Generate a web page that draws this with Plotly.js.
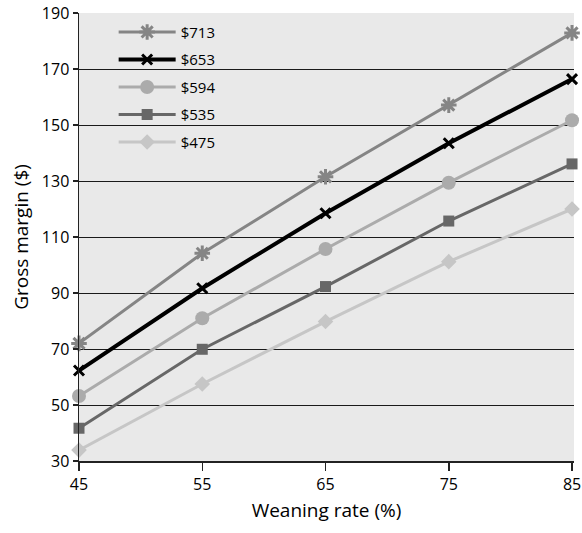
<!DOCTYPE html>
<html>
<head>
<meta charset="utf-8">
<script src="https://cdn.plot.ly/plotly-3.0.1.min.js"></script>
<style>
  html, body { margin: 0; padding: 0; background: #ffffff; }
  #chart { width: 582px; height: 533px; }
</style>
</head>
<body>
<div id="chart"></div>
<script>
// Weaning rate (%) on the x axis
const weaningRate = [45, 55, 65, 75, 85];

// Gross margin ($) for each price level
const seriesNames = ["$713", "$653", "$594", "$535", "$475"];
const margin713 = [72.0, 104.2, 131.5, 157.1, 182.9];
const margin653 = [62.3, 91.7, 118.5, 143.5, 166.4];
const margin594 = [53.2, 81.0, 105.7, 129.4, 151.7];
const margin535 = [41.7, 69.9, 92.3, 115.7, 136.1];
const margin475 = [33.9, 57.5, 79.8, 101.2, 120.0];

const yTicks = [30, 50, 70, 90, 110, 130, 150, 170, 190];
const xTicks = [45, 55, 65, 75, 85];

const FONT = "'Open Sans', 'Noto Sans', sans-serif";

const styles = [
  { color: "#858585", symbol: "asterisk", size: 13, open: true },
  { color: "#000000", symbol: "x-thin", size: 10, open: true },
  { color: "#ababab", symbol: "circle", size: 14, open: false },
  { color: "#676767", symbol: "square", size: 11, open: false },
  { color: "#c6c6c6", symbol: "diamond", size: 12, open: false }
];
const values = [margin713, margin653, margin594, margin535, margin475];

const traces = values.map((v, i) => {
  const s = styles[i];
  return {
    type: "scatter",
    mode: "lines+markers",
    x: weaningRate,
    y: v,
    name: seriesNames[i],
    legendgroup: "g" + i,
    line: { color: s.color, width: i === 1 ? 4 : 3 },
    marker: {
      symbol: s.symbol,
      size: s.size,
      color: s.color,
      line: { color: s.color, width: s.open ? 3 : 0 }
    },
    cliponaxis: false
  };
});

const layout = {
  width: 582,
  height: 533,
  margin: { l: 79, r: 8, t: 13, b: 72 },
  paper_bgcolor: "#ffffff",
  plot_bgcolor: "#e9e9e9",
  font: { family: FONT, size: 16, color: "#000000" },
  showlegend: true,
  legend: {
    x: 0.07, y: 0.994, xanchor: "left", yanchor: "top",
    bgcolor: "rgba(0,0,0,0)",
    traceorder: "grouped",
    tracegroupgap: 5,
    itemwidth: 57,
    font: { family: FONT, size: 15, color: "#000000" }
  },
  xaxis: {
    range: [45, 85.16],
    tickvals: xTicks,
    ticktext: xTicks.map(String),
    showgrid: false,
    zeroline: false,
    showline: true,
    linecolor: "#222222",
    linewidth: 1.5,
    ticks: "outside",
    ticklen: 8,
    tickwidth: 1.5,
    tickcolor: "#222222",
    tickfont: { family: FONT, size: 16, color: "#000000" },
    title: { text: "Weaning rate (%)", font: { family: FONT, size: 19, color: "#000000" }, standoff: 10 }
  },
  yaxis: {
    range: [30, 190],
    tickvals: yTicks,
    ticktext: yTicks.map(String),
    showgrid: true,
    gridcolor: "#1a1a1a",
    gridwidth: 1,
    zeroline: false,
    showline: true,
    linecolor: "#222222",
    linewidth: 1.5,
    ticks: "outside",
    ticklen: 5,
    tickwidth: 1.5,
    tickcolor: "#222222",
    tickfont: { family: FONT, size: 16, color: "#000000" },
    title: { text: "Gross margin ($)", font: { family: FONT, size: 19, color: "#000000" }, standoff: 8 }
  }
};

Plotly.newPlot("chart", traces, layout, { displayModeBar: false, staticPlot: true });
</script>
</body>
</html>
